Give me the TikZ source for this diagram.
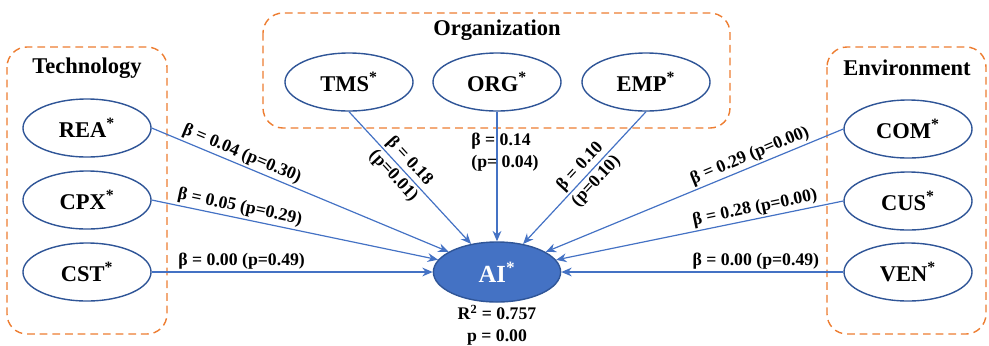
\documentclass[tikz,border=0pt]{standalone}
\usepackage{fontspec}
\setmainfont{Liberation Serif}
\usetikzlibrary{shapes.geometric,arrows.meta}
\definecolor{lineblue}{HTML}{4472C4}
\definecolor{edgeblue}{HTML}{2F5597}
\definecolor{grouporange}{HTML}{ED7D31}
\tikzset{>={Stealth[length=2.6mm,width=2.2mm]}}

\begin{document}
\begin{tikzpicture}[
    x=0.025cm, y=-0.025cm,
    every node/.style={font=\bfseries},
    var/.style={draw=edgeblue, line width=1pt, ellipse, minimum width=3.2cm, minimum height=1.45cm, inner sep=0pt, font=\fontsize{16}{19}\selectfont\bfseries},
    dep/.style={var, fill=lineblue, text=white, minimum width=3.18cm, minimum height=1.5cm, font=\fontsize{17.5}{20}\selectfont\bfseries},
    grp/.style={draw=grouporange, line width=1pt, rounded corners=0.5cm, dash pattern=on 5.5pt off 3.5pt},
    ttl/.style={font=\fontsize{16}{19}\selectfont\bfseries},
    lbl/.style={inner sep=1.5pt, font=\fontsize{12.6}{15.5}\selectfont\bfseries},
    arr/.style={->, draw=lineblue, line width=0.85pt}
]
    \useasboundingbox (0,0) rectangle (989,345);

    % Groups
    \draw[grp] (7,47) rectangle (167,334);
    \draw[grp] (263,13) rectangle (730,128);
    \draw[grp] (827,47) rectangle (986,334);
    \node (TechTitle) [ttl] at (87,68) {Technology};
    \node (OrgTitle) [ttl] at (497,30) {Organization};
    \node (EnvTitle) [ttl] at (907,68) {Environment};

    % Nodes
    \node (REA) [var] at (87,128) {REA\textsuperscript{*}};
    \node (CPX) [var] at (87,200) {CPX\textsuperscript{*}};
    \node (CST) [var] at (87,272) {CST\textsuperscript{*}};
    \node (TMS) [var] at (349,82) {TMS\textsuperscript{*}};
    \node (ORG) [var] at (497,82) {ORG\textsuperscript{*}};
    \node (EMP) [var] at (646,82) {EMP\textsuperscript{*}};
    \node (COM) [var] at (908,129) {COM\textsuperscript{*}};
    \node (CUS) [var] at (908,201) {CUS\textsuperscript{*}};
    \node (VEN) [var] at (908,272) {VEN\textsuperscript{*}};
    \node (AI) [dep] at (497,272) {AI\textsuperscript{*}};
    \node (Fit) [lbl, anchor=north, align=center] at (497,303) {R\textsuperscript{2} = 0.757\\p = 0.00};

    % Arrows
    \draw[arr] (REA.east) -- (AI) node[lbl, sloped, above, pos=0.29] {β = 0.04 (p=0.30)};
    \draw[arr] (CPX.east) -- (AI) node[lbl, sloped, above, pos=0.30] {β = 0.05 (p=0.29)};
    \draw[arr] (CST.east) -- (AI) node[lbl, sloped, above, pos=0.32] {β = 0.00 (p=0.49)};
    \draw[arr] (TMS.south) -- (AI) node[lbl, sloped, align=center, pos=0.43] {β = 0.18\\(p=0.01)};
    \draw[arr] (ORG.south) -- (AI) node[lbl, align=left, pos=0.31, xshift=0.2cm] {β = 0.14\\(p= 0.04)};
    \draw[arr] (EMP.south) -- (AI) node[lbl, sloped, align=center, pos=0.47] {β = 0.10\\(p=0.10)};
    \draw[arr] (COM.west) -- (AI) node[lbl, sloped, above, pos=0.30] {β = 0.29 (p=0.00)};
    \draw[arr] (CUS.west) -- (AI) node[lbl, sloped, above, pos=0.30] {β = 0.28 (p=0.00)};
    \draw[arr] (VEN.west) -- (AI) node[lbl, sloped, above, pos=0.31] {β = 0.00 (p=0.49)};
\end{tikzpicture}
\end{document}
